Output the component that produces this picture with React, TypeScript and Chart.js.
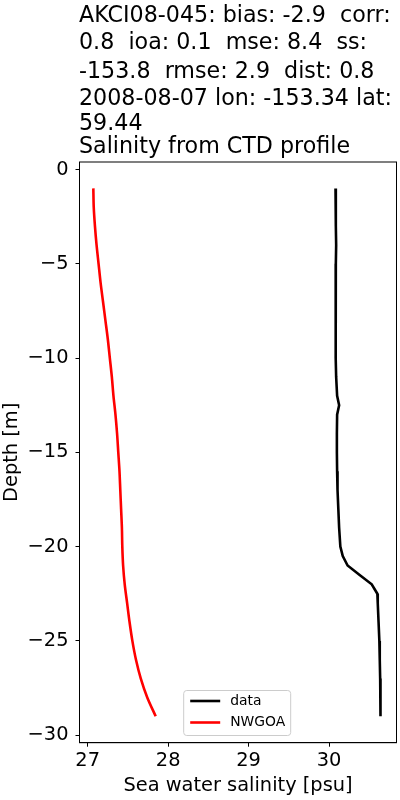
import React, { useEffect, useRef } from "react";
import { Chart, registerables } from "chart.js";

Chart.register(...registerables);

const titleLines = [
  "AKCI08-045: bias: -2.9  corr:",
  "0.8  ioa: 0.1  mse: 8.4  ss:",
  "-153.8  rmse: 2.9  dist: 0.8",
  "2008-08-07 lon: -153.34 lat:",
  "59.44",
  "Salinity from CTD profile",
];
const titleBaselines = [21.7, 49.3, 78, 105, 130, 153.3];

const seriesNames = ["data", "NWGOA"];
const seriesColors = ["#000000", "#ff0000"];

const dataDepth = [
  -1, -2, -3, -4, -5, -6, -7, -8, -9, -10, -11, -12, -12.5, -13, -14, -15, -16, -17, -18, -19, -20,
  -20.5, -21, -21.5, -22, -22.5, -23, -24, -25, -26, -27, -28, -29,
];
const dataSalinity = [
  30.08, 30.082, 30.086, 30.088, 30.084, 30.081, 30.082, 30.08, 30.083, 30.085, 30.088, 30.1, 30.125,
  30.1, 30.097, 30.097, 30.1, 30.105, 30.115, 30.125, 30.14, 30.17, 30.23, 30.38, 30.53, 30.6, 30.605,
  30.615, 30.625, 30.63, 30.635, 30.638, 30.64,
];

const modelDepth = [
  -1, -2, -3, -4, -5, -6, -7, -8, -9, -10, -11, -12, -13, -14, -15, -16, -17, -18, -19, -20, -21, -22,
  -23, -24, -25, -26, -27, -28, -29,
];
const modelSalinity = [
  27.07, 27.075, 27.09, 27.11, 27.135, 27.16, 27.19, 27.22, 27.25, 27.275, 27.3, 27.32, 27.345, 27.365,
  27.38, 27.395, 27.405, 27.415, 27.425, 27.43, 27.44, 27.46, 27.49, 27.52, 27.555, 27.6, 27.66, 27.74,
  27.845,
];

const xTicks = [27, 28, 29, 30];
const yTicks = [-30, -25, -20, -15, -10, -5, 0];
const xRange = [26.898, 30.838];
const yRange = [-30.4, 0.4];
const xTitle = "Sea water salinity [psu]";
const yTitle = "Depth [m]";

const FONT = "'DejaVu Sans', sans-serif";

export default function App() {
  const ref = useRef<HTMLCanvasElement | null>(null);

  useEffect(() => {
    if (!ref.current) return;
    const extras = {
      id: "extras",
      afterDraw(chart: any) {
        const ctx = chart.ctx;
        const a = chart.chartArea;
        ctx.save();
        // spines
        ctx.strokeStyle = "#000";
        ctx.lineWidth = 1;
        ctx.strokeRect(a.left, a.top, a.right - a.left, a.bottom - a.top);
        // title
        ctx.fillStyle = "#000";
        ctx.font = `22.2px ${FONT}`;
        ctx.textAlign = "left";
        ctx.textBaseline = "alphabetic";
        titleLines.forEach((t, i) => ctx.fillText(t, a.left - 0.5, titleBaselines[i]));
        // legend
        const bw = 107;
        const bh = 45;
        const cx = (a.left + a.right) / 2 - 1.3;
        const bx = cx - bw / 2;
        const by = a.bottom - 7.7 - bh;
        ctx.fillStyle = "rgba(255,255,255,0.8)";
        ctx.strokeStyle = "#cccccc";
        ctx.lineWidth = 1;
        ctx.beginPath();
        (ctx as any).roundRect(bx + 0.5, by + 0.5, bw, bh, 3);
        ctx.fill();
        ctx.stroke();
        ctx.font = `13.9px ${FONT}`;
        ctx.textBaseline = "middle";
        seriesNames.forEach((n, i) => {
          const y = by + 11 + i * 21.5;
          ctx.strokeStyle = seriesColors[i];
          ctx.lineWidth = 2.6;
          ctx.beginPath();
          ctx.moveTo(bx + 7, y);
          ctx.lineTo(bx + 37, y);
          ctx.stroke();
          ctx.fillStyle = "#000";
          ctx.fillText(n, bx + 47, y);
        });
        ctx.restore();
      },
    };

    const chart = new Chart(ref.current, {
      type: "scatter",
      data: {
        datasets: [
          {
            label: seriesNames[0],
            data: dataDepth.map((d, i) => ({ x: dataSalinity[i], y: d })),
            showLine: true,
            borderColor: seriesColors[0],
            backgroundColor: seriesColors[0],
            borderWidth: 2.6,
            pointRadius: 0,
            tension: 0,
          },
          {
            label: seriesNames[1],
            data: modelDepth.map((d, i) => ({ x: modelSalinity[i], y: d })),
            showLine: true,
            borderColor: seriesColors[1],
            backgroundColor: seriesColors[1],
            borderWidth: 2.6,
            pointRadius: 0,
            tension: 0.3,
          },
        ],
      },
      options: {
        animation: false,
        responsive: false,
        maintainAspectRatio: false,
        layout: { padding: { top: 162, right: 3.5, left: 0, bottom: 0 } },
        plugins: { legend: { display: false }, tooltip: { enabled: false }, title: { display: false } },
        scales: {
          x: {
            type: "linear",
            min: xRange[0],
            max: xRange[1],
            afterBuildTicks: (s: any) => {
              s.ticks = xTicks.map((v) => ({ value: v }));
            },
            afterFit: (s: any) => {
              s.height = 57.3;
            },
            ticks: {
              color: "#000",
              font: { family: FONT, size: 19.4 },
              padding: 3,
              maxRotation: 0,
              callback: (v: any) => String(v),
            },
            grid: { drawOnChartArea: false, drawTicks: true, tickLength: 4, color: "#000" },
            border: { display: true, color: "#000" },
            title: {
              display: true,
              text: xTitle,
              color: "#000",
              font: { family: FONT, size: 19.4 },
              padding: { top: 4, bottom: 2 },
            },
          },
          y: {
            type: "linear",
            min: yRange[0],
            max: yRange[1],
            afterBuildTicks: (s: any) => {
              s.ticks = yTicks.map((v) => ({ value: v }));
            },
            afterFit: (s: any) => {
              s.width = 79.5;
            },
            ticks: {
              color: "#000",
              font: { family: FONT, size: 19.4 },
              padding: 7,
              callback: (v: any) => String(v).replace("-", "\u2212"),
            },
            grid: { drawOnChartArea: false, drawTicks: true, tickLength: 4, color: "#000" },
            border: { display: true, color: "#000" },
            title: {
              display: true,
              text: yTitle,
              color: "#000",
              font: { family: FONT, size: 19.4 },
              padding: { top: 0, bottom: 0 },
            },
          },
        },
      },
      plugins: [extras],
    });
    return () => chart.destroy();
  }, []);

  return (
    <div style={{ position: "fixed", left: 0, top: 0, width: 400, height: 800, background: "#fff" }}>
      <canvas ref={ref} width={400} height={800} style={{ width: 400, height: 800 }} />
    </div>
  );
}
